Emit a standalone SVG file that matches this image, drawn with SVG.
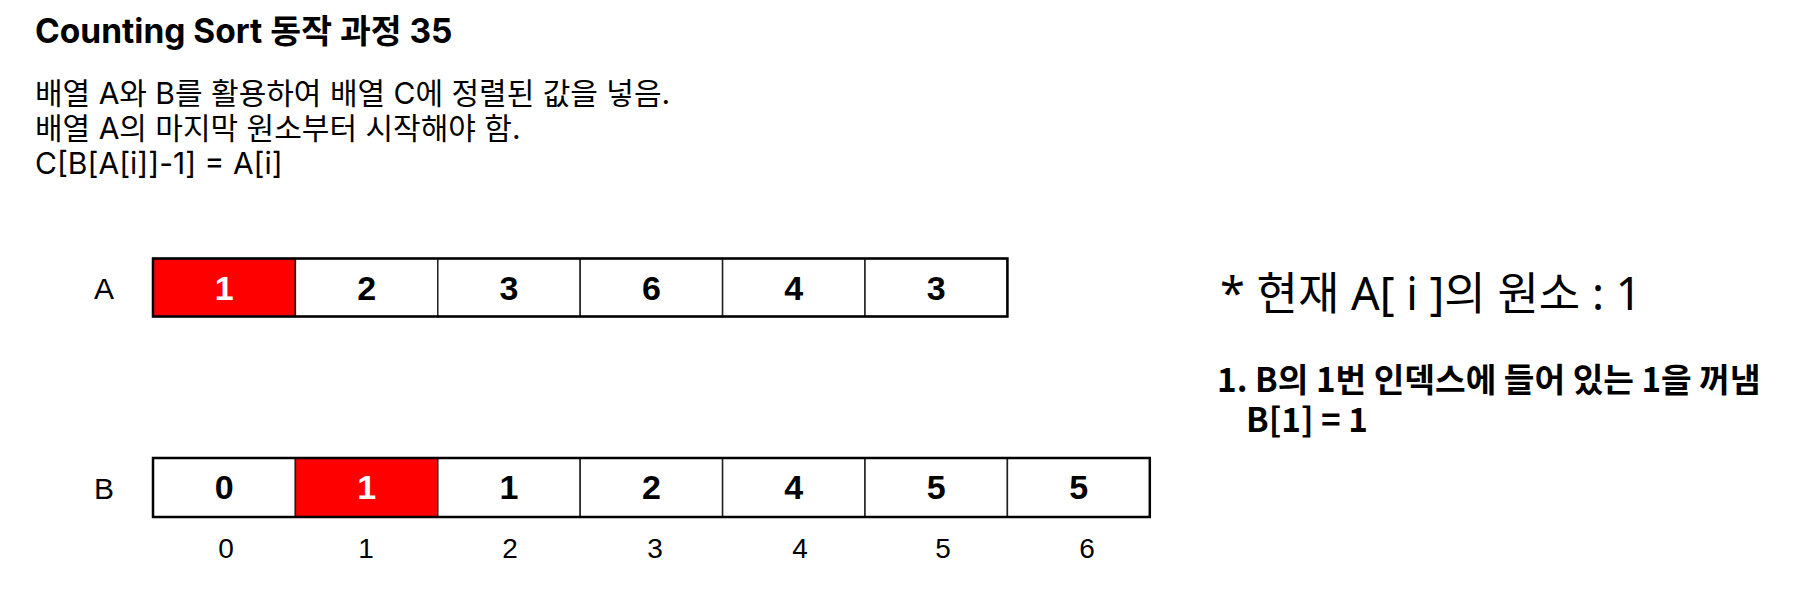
<svg xmlns="http://www.w3.org/2000/svg" width="1819" height="594" viewBox="0 0 1819 594">
<style>
.title{font-family:Inter,"Noto Sans CJK KR",sans-serif;font-weight:700;font-size:33.5px;fill:#000}
.body{font-family:Inter,"Noto Sans CJK KR",sans-serif;font-size:30px;fill:#000}
.info{font-family:"Noto Sans","Noto Sans CJK KR",sans-serif;font-size:45px;fill:#000}
.step{font-family:"Noto Sans CJK KR","Noto Sans",sans-serif;font-weight:700;font-size:33.3px;fill:#000}
.lbl{font-family:"Liberation Sans",Arial,sans-serif;font-size:28px;fill:#000;text-anchor:middle}
.ab{font-family:"Liberation Sans",Arial,sans-serif;font-size:30px;fill:#000;text-anchor:middle}
.val{font-family:"Liberation Sans",Arial,sans-serif;font-weight:700;font-size:34px;fill:#000;text-anchor:middle}
.valhi{font-family:"Liberation Sans",Arial,sans-serif;font-weight:700;font-size:34px;fill:#fff;text-anchor:middle}
.cell{fill:#fff;stroke:#222;stroke-width:1.5}
.hi{fill:#ff0000;stroke:#222;stroke-width:1.5}
.frame{fill:none;stroke:#000;stroke-width:2.5}
</style>
<rect width="1819" height="594" fill="#fff"/>
<g id="header">
<text class="title" x="35" y="43">Counting Sort 동작 과정 35</text>
<text class="body" x="35" y="104">배열 A와 B를 활용하여 배열 C에 정렬된 값을 넣음.</text>
<text class="body" x="35" y="138.5">배열 A의 마지막 원소부터 시작해야 함.</text>
<text class="body" x="35" y="174">C[B[A[i]]-1] = A[i]</text>
</g>
<g id="arrayA">
<text class="ab" x="104" y="299">A</text>
<g id="A0"><rect class="hi" x="153" y="258.5" width="142.4" height="58"/><text class="valhi" x="224.2" y="300">1</text></g>
<g id="A1"><rect class="cell" x="295.4" y="258.5" width="142.4" height="58"/><text class="val" x="366.6" y="300">2</text></g>
<g id="A2"><rect class="cell" x="437.8" y="258.5" width="142.4" height="58"/><text class="val" x="509" y="300">3</text></g>
<g id="A3"><rect class="cell" x="580.2" y="258.5" width="142.4" height="58"/><text class="val" x="651.4" y="300">6</text></g>
<g id="A4"><rect class="cell" x="722.6" y="258.5" width="142.4" height="58"/><text class="val" x="793.8" y="300">4</text></g>
<g id="A5"><rect class="cell" x="865" y="258.5" width="142.4" height="58"/><text class="val" x="936.2" y="300">3</text></g>
<rect class="frame" x="153" y="258.5" width="854.4" height="58"/>
</g>
<g id="arrayB">
<text class="ab" x="104" y="499">B</text>
<g id="B0"><rect class="cell" x="153" y="458" width="142.4" height="59"/><text class="val" x="224.2" y="499">0</text></g>
<g id="B1"><rect class="hi" x="295.4" y="458" width="142.4" height="59"/><text class="valhi" x="366.6" y="499">1</text></g>
<g id="B2"><rect class="cell" x="437.8" y="458" width="142.4" height="59"/><text class="val" x="509" y="499">1</text></g>
<g id="B3"><rect class="cell" x="580.2" y="458" width="142.4" height="59"/><text class="val" x="651.4" y="499">2</text></g>
<g id="B4"><rect class="cell" x="722.6" y="458" width="142.4" height="59"/><text class="val" x="793.8" y="499">4</text></g>
<g id="B5"><rect class="cell" x="865" y="458" width="142.4" height="59"/><text class="val" x="936.2" y="499">5</text></g>
<g id="B6"><rect class="cell" x="1007.4" y="458" width="142.4" height="59"/><text class="val" x="1078.6" y="499">5</text></g>
<rect class="frame" x="153" y="458" width="996.8" height="59"/>
</g>
<g id="indices">
<text class="lbl" x="226" y="558">0</text>
<text class="lbl" x="366" y="558">1</text>
<text class="lbl" x="510" y="558">2</text>
<text class="lbl" x="655" y="558">3</text>
<text class="lbl" x="800" y="558">4</text>
<text class="lbl" x="943" y="558">5</text>
<text class="lbl" x="1087" y="558">6</text>
</g>
<g id="notes">
<text class="info" x="1220" y="310">* 현재 A[ i ]의 원소 : 1</text>
<text class="step" x="1217" y="392">1. B의 1번 인덱스에 들어 있는 1을 꺼냄<tspan x="1246" y="432">B[1] = 1</tspan></text>
</g>
<g id="connectors"/>
</svg>
